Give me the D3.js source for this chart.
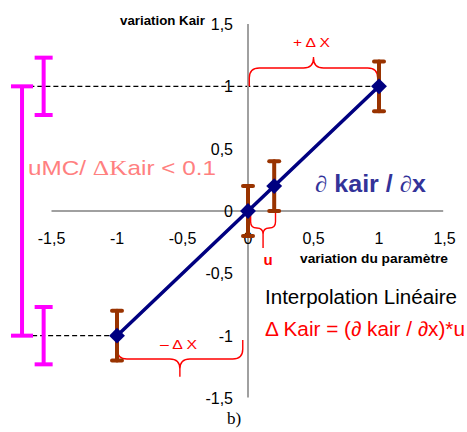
<!DOCTYPE html>
<html><head><meta charset="utf-8">
<script src="https://cdn.jsdelivr.net/npm/d3@7"></script>
<style>body{margin:0;background:#fff}svg{display:block}</style>
</head><body>
<svg id="c" width="467" height="432"></svg>
<script>
// ---- data ----
const xTicks = [-1.5, -1, -0.5, 0, 0.5, 1, 1.5];
const xTickLabels = ["-1,5", "-1", "-0,5", "0", "0,5", "1", "1,5"];
const yTicks = [1.5, 1, 0.5, 0, -0.5, -1, -1.5];
const yTickLabels = ["1,5", "1", "0,5", "0", "-0,5", "-1", "-1,5"];
const pointsX = [-1, 0, 0.2, 1];
const pointsY = [-1, 0, 0.2, 1];
const pointErr = [0.2, 0.2, 0.2, 0.2];
// magenta uncertainty bars: x, center y, half-range
const mcX = [-1.725, -1.56, -1.56];
const mcY = [0, 1, -1];
const mcHalf = [1, 0.23, 0.23];
// dashed guide lines: y value, x start, x end
const guideY = [1, -1];
const guideX0 = [-1.73, -1.77];
const guideX1 = [1, -1];
// braces: x0, x1, base y, mid y, tip y
const braceX0 = [0.01, -1.0, 0.02];
const braceX1 = [0.99, -0.04, 0.21];
const braceBase = [1.0, -1.035, 0];
const braceMid = [1.147, -1.187, -0.136];
const braceTip = [1.235, -1.33, -0.297];

const svg = d3.select("#c");
const x = d3.scaleLinear().domain([-1.5, 1.5]).range([51.5, 444.5]);
const y = d3.scaleLinear().domain([-1.5, 1.5]).range([398, 24]);
const font = "Arial, 'Liberation Sans', sans-serif";
const serif = "'Liberation Serif', 'Times New Roman', serif";

// dashed guides
guideY.forEach((v, i) => {
  svg.append("line").attr("x1", x(guideX0[i])).attr("x2", x(guideX1[i]))
    .attr("y1", y(v)).attr("y2", y(v))
    .attr("stroke", "#000").attr("stroke-width", 1.3).attr("stroke-dasharray", "5,3");
});

// axes
svg.append("line").attr("x1", x(-1.5)).attr("x2", x(1.49)).attr("y1", y(0)).attr("y2", y(0))
  .attr("stroke", "#a0a0a0").attr("stroke-width", 2);
svg.append("line").attr("x1", x(0)).attr("x2", x(0)).attr("y1", y(1.5)).attr("y2", y(-1.495))
  .attr("stroke", "#a0a0a0").attr("stroke-width", 2);

// tick labels
xTicks.forEach((t, i) => {
  svg.append("text").attr("x", x(t)).attr("y", y(0) + 33).attr("text-anchor", "middle")
    .attr("font-family", font).attr("font-size", 16).attr("fill", "#000").text(xTickLabels[i]);
});
yTicks.forEach((t, i) => {
  svg.append("text").attr("x", x(0) - 15).attr("y", y(t) + 6).attr("text-anchor", "end")
    .attr("font-family", font).attr("font-size", 16).attr("fill", "#000").text(yTickLabels[i]);
});

// magenta bars
mcX.forEach((mx, i) => {
  const w = i === 0 ? 11 : 9;
  const g = svg.append("g").attr("stroke", "#ff00ff").attr("stroke-width", 4);
  g.append("line").attr("x1", x(mx)).attr("x2", x(mx)).attr("y1", y(mcY[i] + mcHalf[i])).attr("y2", y(mcY[i] - mcHalf[i]));
  [mcY[i] + mcHalf[i], mcY[i] - mcHalf[i]].forEach(v => {
    g.append("line").attr("x1", x(mx) - w).attr("x2", x(mx) + w).attr("y1", y(v)).attr("y2", y(v));
  });
});

// braces
function bracePath(i) {
  const x0 = x(braceX0[i]), x1 = x(braceX1[i]), xc = (x0 + x1) / 2;
  const yb = y(braceBase[i]), ym = y(braceMid[i]), yt = y(braceTip[i]);
  const r = Math.min(10, (x1 - x0) / 4);
  const s = Math.sign(ym - yb);
  return `M${x0},${yb} L${x0},${ym - s * r} Q${x0},${ym} ${x0 + r},${ym} L${xc - r},${ym} Q${xc},${ym} ${xc},${ym + s * r} L${xc},${yt}` +
    ` M${xc},${ym + s * r} Q${xc},${ym} ${xc + r},${ym} L${x1 - r},${ym} Q${x1},${ym} ${x1},${ym - s * r} L${x1},${yb}`;
}
braceX0.forEach((_, i) => {
  svg.append("path").attr("d", bracePath(i)).attr("fill", "none").attr("stroke", "#ff0000").attr("stroke-width", 1.4);
});

// error bars
pointsX.forEach((px, i) => {
  const g = svg.append("g").attr("stroke", "#993300").attr("stroke-width", 4).attr("stroke-linecap", "round");
  g.append("line").attr("x1", x(px)).attr("x2", x(px)).attr("y1", y(pointsY[i] + pointErr[i])).attr("y2", y(pointsY[i] - pointErr[i]));
  [pointsY[i] + pointErr[i], pointsY[i] - pointErr[i]].forEach(v => {
    g.append("line").attr("x1", x(px) - 5).attr("x2", x(px) + 5).attr("y1", y(v)).attr("y2", y(v));
  });
});

// line
const line = d3.line().x((d, i) => x(pointsX[i])).y((d, i) => y(pointsY[i]));
svg.append("path").attr("d", line(pointsX)).attr("fill", "none").attr("stroke", "#000080").attr("stroke-width", 3.5);

// diamond markers
const sym = d3.symbol().type(d3.symbolDiamond2).size(160);
pointsX.forEach((px, i) => {
  svg.append("path").attr("d", sym()).attr("transform", `translate(${x(px)},${y(pointsY[i])})`).attr("fill", "#000080");
});

// texts
function txt(tx, ty, s, size, fill, opts = {}) {
  const t = svg.append("text").attr("x", tx).attr("y", ty).attr("font-family", opts.family || font)
    .attr("font-size", size).attr("fill", fill).text(s);
  if (opts.bold) t.attr("font-weight", "bold");
  if (opts.anchor) t.attr("text-anchor", opts.anchor);
  if (opts.len) t.attr("textLength", opts.len).attr("lengthAdjust", "spacingAndGlyphs");
  return t;
}
txt(120, 25, "variation Kair", 13.3, "#000", {bold: true});

// uMC / ΔKair < 0.1 (ΔK in serif)
const t1 = svg.append("text").attr("x", 28).attr("y", 175).attr("font-family", font)
  .attr("font-size", 21).attr("fill", "#ff8080").attr("textLength", 188).attr("lengthAdjust", "spacingAndGlyphs");
t1.append("tspan").text("uMC/ ");
t1.append("tspan").attr("font-family", serif).attr("font-size", 22).text("\u0394K");
t1.append("tspan").text("air < 0.1");

// ∂ kair / ∂x
const t2 = svg.append("text").attr("x", 315).attr("y", 192).attr("font-family", font)
  .attr("font-size", 23).attr("fill", "#333399").attr("font-weight", "bold")
  .attr("textLength", 111).attr("lengthAdjust", "spacingAndGlyphs");
t2.append("tspan").attr("font-family", serif).attr("font-weight", "normal").attr("font-style", "italic").text("\u2202");
t2.append("tspan").text(" kair / ");
t2.append("tspan").attr("font-family", serif).attr("font-weight", "normal").attr("font-style", "italic").text("\u2202");
t2.append("tspan").text("x");

txt(293, 47, "+ \u0394 X", 13, "#ff0000", {len: 37});
txt(160, 349, "\u2013 \u0394 X", 13, "#ff0000", {len: 37});
txt(268, 265, "u", 15, "#ff0000", {bold: true, anchor: "middle"});
txt(300, 263, "variation du param\u00e8tre", 13.5, "#000", {bold: true, len: 148});
txt(265, 304, "Interpolation Lin\u00e9aire", 20.5, "#000", {len: 192});
txt(265, 336, "\u0394 Kair = (\u2202 kair / \u2202x)*u", 20.5, "#ff0000", {len: 200});
txt(227, 424, "b)", 17, "#000", {family: serif});
</script>
</body></html>
